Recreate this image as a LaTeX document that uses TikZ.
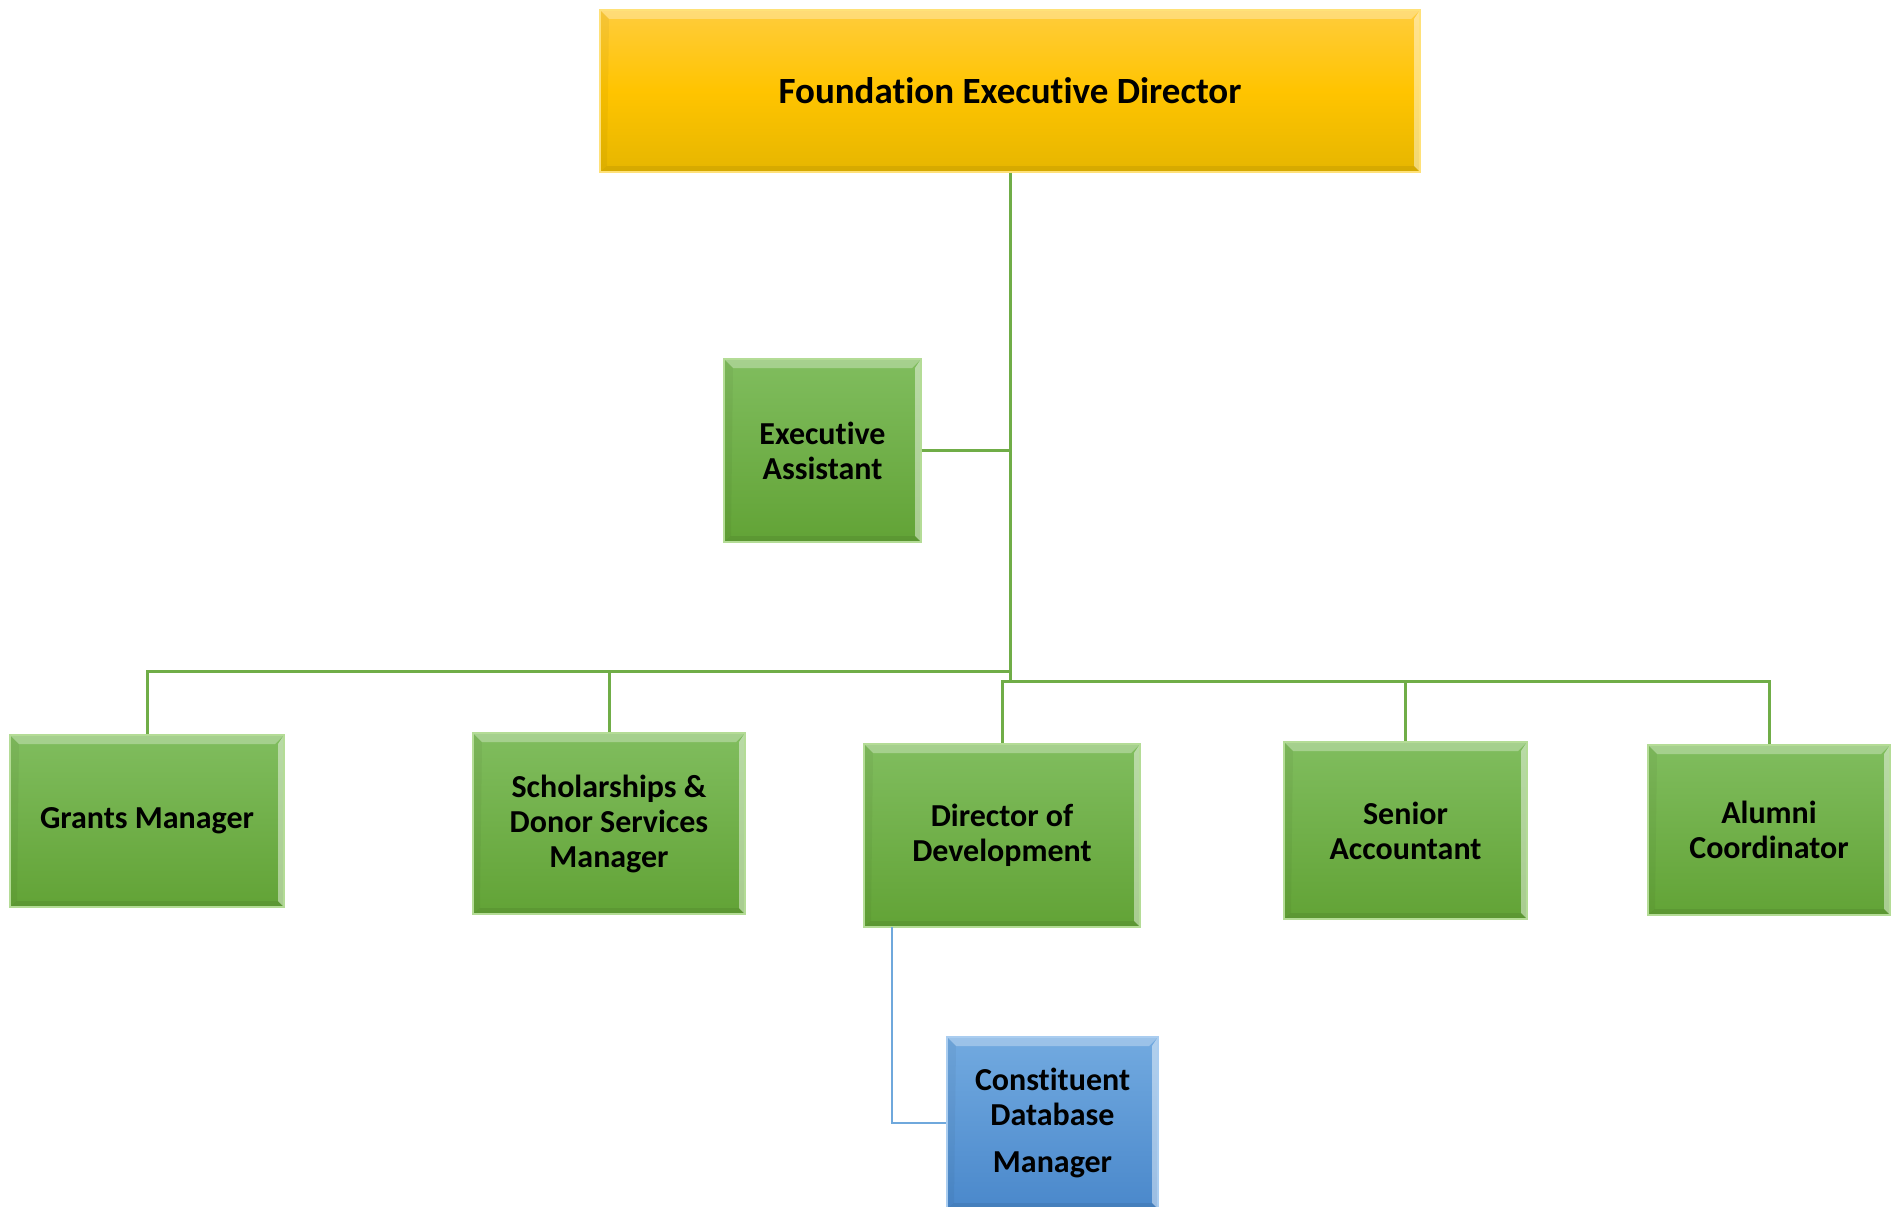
\documentclass[tikz,border=0pt]{standalone}
\usepackage{fontspec}
\setmainfont[Ligatures=NoCommon]{Carlito}
\begin{document}
\begin{tikzpicture}[x=1pt,y=-1pt,
  bevel/.style={path picture={
    \fill[white,opacity=0.30] (path picture bounding box.north west) -- (path picture bounding box.north east) -- ([xshift=-9pt,yshift=-9pt]path picture bounding box.north east) -- ([xshift=9pt,yshift=-9pt]path picture bounding box.north west) -- cycle;
    \fill[white,opacity=0.45] (path picture bounding box.north east) -- (path picture bounding box.south east) -- ([xshift=-6pt,yshift=6pt]path picture bounding box.south east) -- ([xshift=-6pt,yshift=-9pt]path picture bounding box.north east) -- cycle;
    \fill[black,opacity=0.07] (path picture bounding box.south west) -- (path picture bounding box.south east) -- ([xshift=-6pt,yshift=6pt]path picture bounding box.south east) -- ([xshift=7pt,yshift=6pt]path picture bounding box.south west) -- cycle;
    \fill[black,opacity=0.04] (path picture bounding box.north west) -- (path picture bounding box.south west) -- ([xshift=7pt,yshift=6pt]path picture bounding box.south west) -- ([xshift=9pt,yshift=-9pt]path picture bounding box.north west) -- cycle;
  }},
  box/.style={bevel, rectangle, inner sep=0pt, align=center,
    font=\fontsize{32}{35}\selectfont\bfseries, text=black, line width=1.2pt},
  gbox/.style={box, top color={rgb,255:red,128;green,189;blue,94}, bottom color={rgb,255:red,98;green,163;blue,54}, draw={rgb,255:red,180;green,220;blue,150}},
  ybox/.style={box, top color={rgb,255:red,255;green,204;blue,60}, bottom color={rgb,255:red,230;green,182;blue,0}, middle color={rgb,255:red,255;green,196;blue,0}, draw={rgb,255:red,255;green,225;blue,120}},
  bbox/.style={box, top color={rgb,255:red,114;green,170;blue,224}, bottom color={rgb,255:red,74;green,136;blue,203}, draw={rgb,255:red,170;green,205;blue,240}},
  gline/.style={draw={rgb,255:red,112;green,173;blue,71}, line width=3pt},
  bline/.style={draw={rgb,255:red,111;green,168;blue,220}, line width=2.5pt}
]
\useasboundingbox (0,0) rectangle (1896,1207);

\node[ybox, minimum width=820pt, minimum height=162pt, font=\fontsize{37}{40}\selectfont\bfseries] (fed) at (1010,91) {Foundation Executive Director};
\node[gbox, minimum width=197pt, minimum height=183pt] (ea) at (822.5,450.5) {Executive\\Assistant};
\node[gbox, minimum width=274pt, minimum height=172pt] (gm) at (147,821) {Grants Manager};
\node[gbox, minimum width=272pt, minimum height=181pt] (sdsm) at (609,823.5) {Scholarships \&\\Donor Services\\Manager};
\node[gbox, minimum width=276pt, minimum height=183pt] (dod) at (1002,835.5) {Director of\\Development};
\node[gbox, minimum width=243pt, minimum height=177pt] (sa) at (1405.5,830.5) {Senior\\Accountant};
\node[gbox, minimum width=242pt, minimum height=170pt] (ac) at (1769,830) {Alumni\\Coordinator};
\node[bbox, minimum width=211pt, minimum height=172pt] (cdm) at (1052.5,1123) {Constituent\\Database\\[12pt]Manager};

\coordinate (jr) at (1010,681);
\coordinate (jl) at (1010,671);
\coordinate (ds) at (892,927);

\draw[gline] (fed.south) -- (jr);
\draw[gline] (ea.east) -- (ea.east -| jr);
\draw[gline] (jl) -| (gm.north);
\draw[gline] (jl) -| (sdsm.north);
\draw[gline] (jr) -| (dod.north);
\draw[gline] (jr) -| (sa.north);
\draw[gline] (jr) -| (ac.north);
\draw[bline] (ds) |- (cdm.west);
\end{tikzpicture}
\end{document}
